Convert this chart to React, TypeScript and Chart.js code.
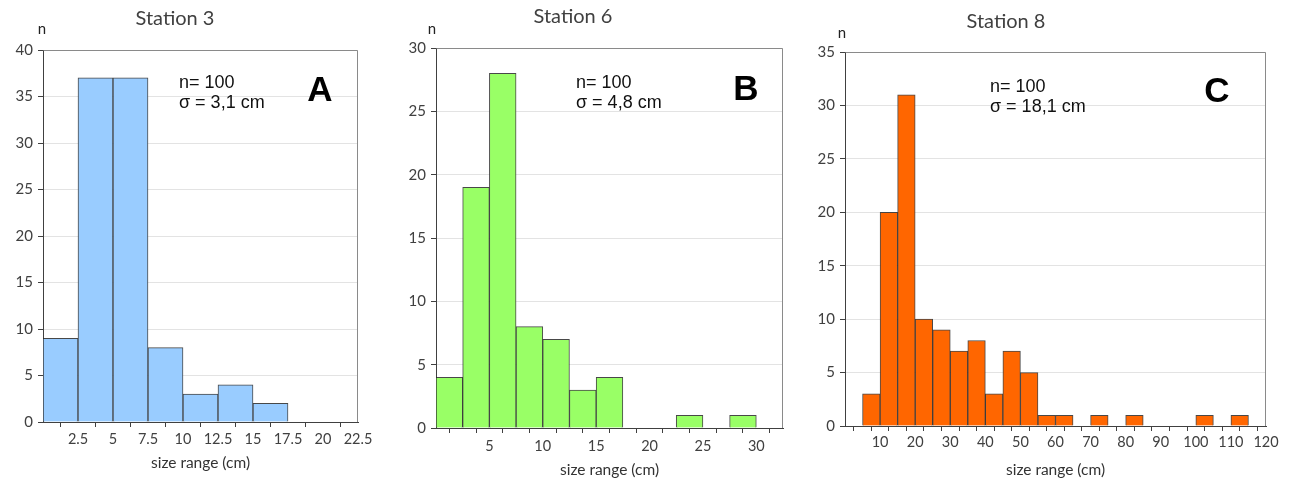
import React, { useEffect, useRef } from "react";
import { Chart, registerables } from "chart.js";
Chart.register(...registerables);

// ---- data ----
const stationABinStarts = [0, 2.5, 5, 7.5, 10, 12.5, 15];
const stationACounts = [9, 37, 37, 8, 3, 4, 2];
const stationBBinStarts = [0, 2.5, 5, 7.5, 10, 12.5, 15, 22.5, 27.5];
const stationBCounts = [4, 19, 28, 8, 7, 3, 4, 1, 1];
const stationCBinStarts = [5, 10, 15, 20, 25, 30, 35, 40, 45, 50, 55, 60, 70, 80, 100, 110];
const stationCCounts = [3, 20, 31, 10, 9, 7, 8, 3, 7, 5, 1, 1, 1, 1, 1, 1];
const binWidths = [2.5, 2.5, 5];
const panelTitles = ["Station 3", "Station 6", "Station 8"];
const panelLetters = ["A", "B", "C"];
const sampleSizes = [100, 100, 100];
const sigmaLabels = ["3,1", "4,8", "18,1"];
const xMaxes = [22.5, 32.5, 120];
const xTickSteps = [2.5, 2.5, 5];
const xLabelEvery = [2.5, 5, 10];
const yMaxes = [40, 30, 35];
const yTickStep = 5;
const xAxisTitle = "size range (cm)";
const yAxisTitle = "n";

const BAR_BORDER = "rgba(40,40,40,0.85)";
const AXIS = "#404040";
const TICK_TEXT = "#404040";

type PanelLayout = {
  left: number;
  width: number;
  pad: { left: number; right: number; top: number; bottom: number };
  yw: number;
  xh: number;
  xTickPad: number;
  color: string;
  titleX: number;
  titleY: number;
  nX: number;
  nY: number;
  annX: number;
  annY: number;
  letterX: number;
  letterY: number;
  xTitleY: number;
};

const layouts: PanelLayout[] = [
  {
    left: 0, width: 385,
    pad: { left: 8, right: 27, top: 50, bottom: 18 }, yw: 35, xh: 40, xTickPad: 4,
    color: "#99CCFF",
    titleX: 175, titleY: 19, nX: 42, nY: 29, annX: 179, annY: 83,
    letterX: 320, letterY: 101, xTitleY: 463,
  },
  {
    left: 385, width: 405,
    pad: { left: 16, right: 7, top: 48, bottom: 12 }, yw: 35, xh: 40, xTickPad: 5,
    color: "#99FF66",
    titleX: 573, titleY: 17, nX: 432, nY: 29, annX: 576, annY: 83,
    letterX: 746, letterY: 100, xTitleY: 470,
  },
  {
    left: 790, width: 509,
    pad: { left: 20, right: 33, top: 52, bottom: 14 }, yw: 35, xh: 40, xTickPad: 3,
    color: "#FF6600",
    titleX: 1006, titleY: 22, nX: 842, nY: 33, annX: 990, annY: 87,
    letterX: 1217, letterY: 102, xTitleY: 470,
  },
];

const binStartsAll = [stationABinStarts, stationBBinStarts, stationCBinStarts];
const countsAll = [stationACounts, stationBCounts, stationCCounts];

const overlayPlugin = {
  id: "overlayText",
  afterDraw(chart: any) {
    const o = chart.options.plugins.overlayText;
    if (!o) return;
    const { ctx, chartArea: a } = chart;
    const L: PanelLayout = o.layout;
    const off = L.left;
    ctx.save();
    // top & right frame
    ctx.strokeStyle = "#8a8a8a";
    ctx.lineWidth = 1;
    ctx.beginPath();
    ctx.moveTo(Math.round(a.left) + 0.5, Math.round(a.top) + 0.5);
    ctx.lineTo(Math.round(a.right) - 0.5, Math.round(a.top) + 0.5);
    ctx.lineTo(Math.round(a.right) - 0.5, Math.round(a.bottom));
    ctx.stroke();

    // title
    ctx.fillStyle = "#404040";
    ctx.font = '20px Lato, "Open Sans", sans-serif';
    ctx.textAlign = "center";
    ctx.textBaseline = "middle";
    ctx.fillText(o.title, L.titleX - off, L.titleY);

    // y-axis title
    ctx.fillStyle = "#222";
    ctx.font = '15px Lato, "Open Sans", sans-serif';
    ctx.textAlign = "center";
    ctx.fillText(yAxisTitle, L.nX - off, L.nY);

    // annotation
    ctx.fillStyle = "#111";
    ctx.font = '18px "Liberation Sans", Arial, sans-serif';
    ctx.textAlign = "left";
    ctx.fillText("n= " + o.n, L.annX - off, L.annY);
    ctx.fillText("\u03C3 = " + o.sigma + " cm", L.annX - off, L.annY + 20);

    // letter
    ctx.fillStyle = "#000";
    ctx.font = 'bold 35px "Liberation Sans", Arial, sans-serif';
    ctx.textAlign = "center";
    ctx.textBaseline = "alphabetic";
    ctx.fillText(o.letter, L.letterX - off, L.letterY);

    // x-axis title
    ctx.fillStyle = "#333";
    ctx.font = '15.5px Lato, "Open Sans", sans-serif';
    ctx.textBaseline = "middle";
    ctx.fillText(xAxisTitle, (a.left + a.right) / 2, L.xTitleY);
    ctx.restore();
  },
};

function Panel({ idx }: { idx: number }) {
  const ref = useRef<HTMLCanvasElement | null>(null);
  const L = layouts[idx];
  useEffect(() => {
    if (!ref.current) return;
    const w = binWidths[idx];
    const data = binStartsAll[idx].map((s, i) => ({ x: s + w / 2, y: countsAll[idx][i] }));
    const labelEvery = xLabelEvery[idx];
    const chart = new Chart(ref.current, {
      type: "bar",
      data: {
        datasets: [
          {
            data: data as any,
            backgroundColor: L.color,
            borderColor: BAR_BORDER,
            borderWidth: 1,
            borderSkipped: "bottom" as any,
            barPercentage: 1,
            categoryPercentage: 1,
          },
        ],
      },
      options: {
        responsive: false,
        animation: false,
        layout: { padding: L.pad },
        plugins: {
          legend: { display: false },
          tooltip: { enabled: false },
          title: { display: false },
          overlayText: {
            layout: L,
            title: panelTitles[idx],
            letter: panelLetters[idx],
            n: sampleSizes[idx],
            sigma: sigmaLabels[idx],
          },
        } as any,
        scales: {
          x: {
            type: "linear",
            min: 0,
            max: xMaxes[idx],
            offset: false,
            afterFit: (s: any) => {
              s.height = L.xh;
            },
            afterBuildTicks: (s: any) => {
              const t = [];
              const step = xTickSteps[idx];
              for (let v = 0; v <= xMaxes[idx] + 1e-9; v += step) t.push({ value: v });
              s.ticks = t;
            },
            grid: {
              drawOnChartArea: false,
              drawTicks: true,
              tickLength: 5,
              tickColor: AXIS,
            },
            border: { display: true, color: AXIS, width: 1 },
            ticks: {
              autoSkip: false,
              maxRotation: 0,
              padding: L.xTickPad,
              color: TICK_TEXT,
              font: { family: 'Lato, "Open Sans", sans-serif', size: 14.5 },
              callback: (v: any) => {
                const n = Number(v);
                if (n === 0) return "";
                const r = n / labelEvery;
                if (Math.abs(r - Math.round(r)) > 1e-6) return "";
                return String(n);
              },
            },
          },
          y: {
            type: "linear",
            min: 0,
            max: yMaxes[idx],
            afterFit: (s: any) => {
              s.width = L.yw;
            },
            grid: {
              color: "#e3e3e3",
              tickLength: 5,
              tickColor: AXIS,
            },
            border: { display: true, color: AXIS, width: 1 },
            ticks: {
              stepSize: yTickStep,
              padding: 5,
              color: TICK_TEXT,
              font: { family: 'Lato, "Open Sans", sans-serif', size: 15 },
            },
          },
        },
      },
      plugins: [overlayPlugin],
    });
    return () => chart.destroy();
  }, [idx]);
  return (
    <canvas
      ref={ref}
      width={L.width}
      height={480}
      style={{ position: "absolute", left: L.left, top: 0, width: L.width, height: 480 }}
    />
  );
}

export default function App() {
  return (
    <div
      style={{
        position: "absolute",
        left: 0,
        top: 0,
        width: 1299,
        height: 480,
        background: "#fff",
        overflow: "hidden",
      }}
    >
      <Panel idx={0} />
      <Panel idx={1} />
      <Panel idx={2} />
    </div>
  );
}
